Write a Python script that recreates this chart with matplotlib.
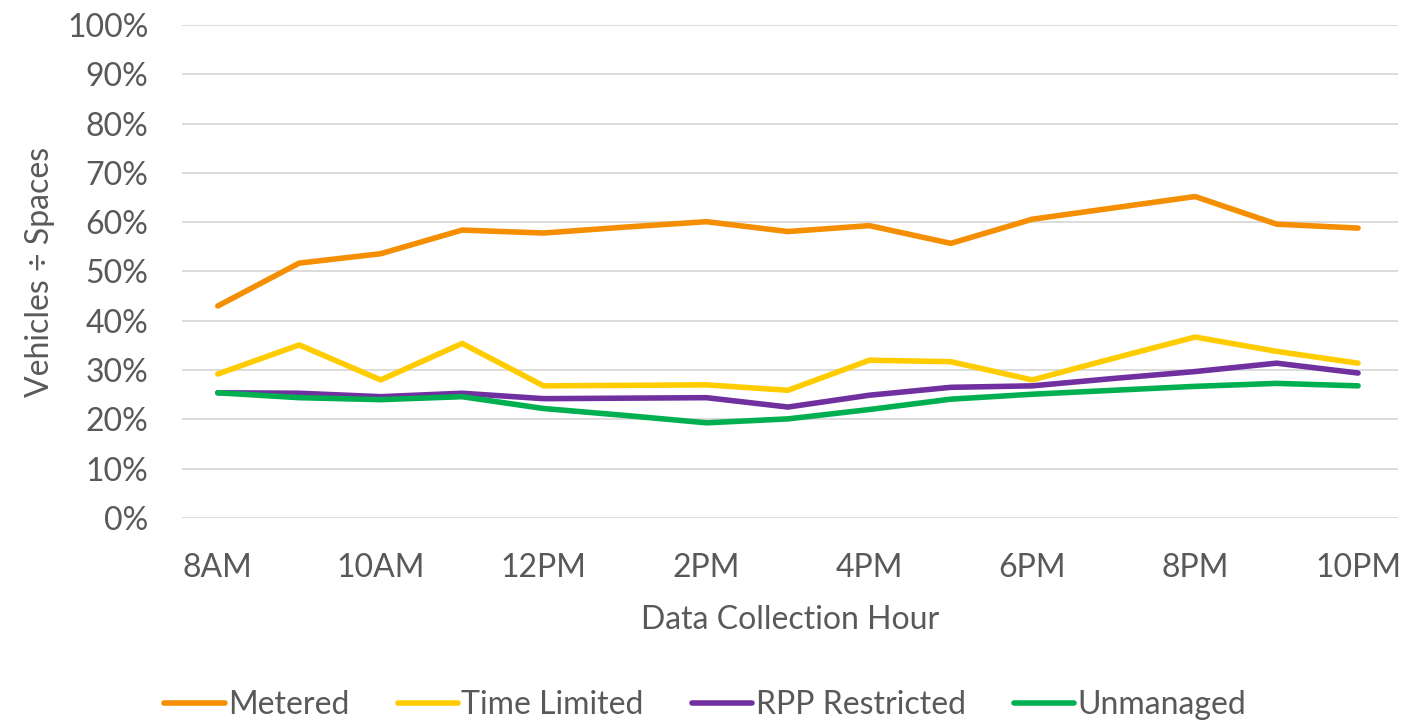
import matplotlib
matplotlib.use("Agg")
import matplotlib.pyplot as plt
from matplotlib.ticker import PercentFormatter

hours = ["8AM", "9AM", "10AM", "11AM", "12PM", "1PM", "2PM", "3PM",
         "4PM", "5PM", "6PM", "7PM", "8PM", "9PM", "10PM"]
metered = [43.0, 51.7, 53.6, 58.4, 57.8, 59.0, 60.1, 58.1, 59.3, 55.7, 60.6, 62.9, 65.2, 59.6, 58.8]
time_limited = [29.2, 35.1, 28.0, 35.4, 26.8, 26.9, 27.0, 25.9, 32.0, 31.7, 28.0, 32.4, 36.7, 33.8, 31.4]
rpp_restricted = [25.4, 25.3, 24.6, 25.3, 24.2, 24.3, 24.4, 22.5, 24.9, 26.5, 26.8, 28.3, 29.7, 31.4, 29.4]
unmanaged = [25.4, 24.4, 24.0, 24.6, 22.2, 20.8, 19.3, 20.1, 22.0, 24.1, 25.1, 25.9, 26.7, 27.3, 26.8]

series = [("Metered", metered, "#F58E00"),
          ("Time Limited", time_limited, "#FFCC00"),
          ("RPP Restricted", rpp_restricted, "#7030A0"),
          ("Unmanaged", unmanaged, "#00B050")]

plt.rcParams['font.family'] = ['Lato', 'DejaVu Sans']
txt = "#595959"
fs = 23

fig = plt.figure(figsize=(14.05, 7.2), dpi=100)
ax = fig.add_axes([0.1295, 0.2806, 0.8655, 0.6847])

x = list(range(len(hours)))
for name, vals, col in series:
    ax.plot(x, [v / 100 for v in vals], color=col, lw=4.0, label=name,
            solid_capstyle='round', solid_joinstyle='round')

ax.set_ylim(0, 1)
ax.set_xlim(-0.44, 14.49)
ax.set_yticks([i / 10 for i in range(11)])
ax.yaxis.set_major_formatter(PercentFormatter(1.0, decimals=0))
ax.set_xticks(x[::2])
ax.set_xticklabels(hours[::2])
ax.grid(axis='y', color='#D9D9D9', lw=1.3)
ax.set_axisbelow(True)
for s in ax.spines.values():
    s.set_visible(False)
ax.tick_params(axis='both', length=0, labelsize=fs, labelcolor=txt)
ax.tick_params(axis='y', pad=24)
ax.tick_params(axis='x', pad=25)

ax.set_ylabel("Vehicles ÷ Spaces", fontsize=fs, color=txt, labelpad=9)
ax.set_xlabel("Data Collection Hour", fontsize=fs, color=txt, labelpad=16)

leg = fig.legend(loc='lower center', bbox_to_anchor=(0.502, -0.04), ncol=4,
                 frameon=False, fontsize=fs, handlelength=1.9, handletextpad=0.1,
                 columnspacing=1.5, labelcolor=txt)

fig.savefig("out.png", dpi=100)
